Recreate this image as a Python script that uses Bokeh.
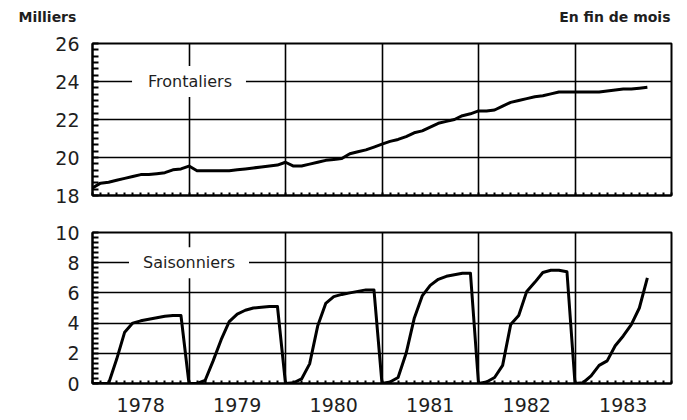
import numpy as np
import pandas as pd
from bokeh.plotting import figure
from bokeh.layouts import column
from bokeh.models import FixedTicker, Label, Range1d
from bokeh.core.properties import value
from bokeh.embed import file_html
from bokeh.resources import INLINE

# ---------------- data (end-of-month values, thousands) ----------------
months = pd.date_range("1977-12-31", periods=70, freq="ME")
years = ["1978", "1979", "1980", "1981", "1982", "1983"]

frontaliers = [
    18.4,
    18.65, 18.7, 18.8, 18.9, 19.0, 19.1, 19.1, 19.15, 19.2, 19.35, 19.4, 19.55,
    19.3, 19.3, 19.3, 19.3, 19.3, 19.35, 19.4, 19.45, 19.5, 19.55, 19.6, 19.75,
    19.55, 19.55, 19.65, 19.75, 19.85, 19.9, 19.95, 20.2, 20.3, 20.4, 20.55, 20.7,
    20.85, 20.95, 21.1, 21.3, 21.4, 21.6, 21.8, 21.9, 22.0, 22.2, 22.3, 22.45,
    22.45, 22.5, 22.7, 22.9, 23.0, 23.1, 23.2, 23.25, 23.35, 23.45, 23.45, 23.45,
    23.45, 23.45, 23.45, 23.5, 23.55, 23.6, 23.6, 23.65, 23.7,
]
saisonniers = [
    0.0,
    0.0, 0.0, 1.6, 3.4, 4.0, 4.15, 4.25, 4.35, 4.45, 4.5, 4.5, 0.0,
    0.0, 0.2, 1.5, 2.9, 4.1, 4.6, 4.85, 5.0, 5.05, 5.1, 5.1, 0.0,
    0.05, 0.3, 1.3, 3.8, 5.3, 5.75, 5.9, 6.0, 6.1, 6.2, 6.2, 0.0,
    0.1, 0.4, 2.0, 4.3, 5.8, 6.5, 6.9, 7.1, 7.2, 7.3, 7.3, 0.0,
    0.1, 0.4, 1.2, 3.9, 4.5, 6.1, 6.7, 7.35, 7.5, 7.5, 7.4, 0.0,
    0.05, 0.5, 1.2, 1.5, 2.5, 3.15, 3.9, 5.0, 7.0,
]

x = list(months.year + months.month / 12.0)
first_year = int(years[0])
last_year = int(years[-1]) + 1
year_centers = [int(y) + 0.5 for y in years]
year_bounds = [float(y) for y in range(first_year + 1, last_year)]
month_ticks = list(np.arange(first_year, last_year + 1e-9, 1 / 12.0))

FONT = "DejaVu Sans"
TXT = "#1e1e1e"
W = 687


def base_fig(height, ymin, ymax, border_top, border_bottom, ymajor, ygrid, xlabels):
    p = figure(width=W, height=height, output_backend="svg", toolbar_location=None,
               x_range=Range1d(first_year, last_year), y_range=Range1d(ymin, ymax),
               min_border_left=92, min_border_right=16,
               min_border_top=border_top, min_border_bottom=border_bottom)
    p.background_fill_color = "white"
    p.border_fill_color = "white"
    p.outline_line_color = "black"
    p.outline_line_width = 2
    # vertical grid at year boundaries
    p.xgrid.ticker = FixedTicker(ticks=year_bounds)
    p.xgrid.grid_line_color = "black"
    p.xgrid.grid_line_width = 1.6
    p.ygrid.ticker = FixedTicker(ticks=ygrid)
    p.ygrid.grid_line_color = "black"
    p.ygrid.grid_line_width = 1.6
    # y axis
    yminor = list(np.arange(ymin, ymax + 1e-9, 1 / 3.0))
    p.yaxis.ticker = FixedTicker(ticks=ymajor, minor_ticks=yminor)
    p.yaxis.axis_line_width = 2
    p.yaxis.major_tick_in = 0
    p.yaxis.major_tick_out = 0
    p.yaxis.minor_tick_in = 6
    p.yaxis.minor_tick_out = 0
    p.yaxis.minor_tick_line_width = 2
    p.yaxis.major_label_standoff = 13
    p.yaxis.major_label_text_font = FONT
    p.yaxis.major_label_text_font_size = "19px"
    p.yaxis.major_label_text_color = TXT
    # x axis (monthly minor ticks, year labels only where wanted)
    if xlabels:
        p.xaxis.ticker = FixedTicker(ticks=year_centers, minor_ticks=month_ticks)
        p.xaxis.major_label_overrides = {c: y for c, y in zip(year_centers, years)}
    else:
        p.xaxis.ticker = FixedTicker(ticks=[], minor_ticks=month_ticks)
    p.xaxis.axis_line_width = 2
    p.xaxis.major_tick_in = 0
    p.xaxis.major_tick_out = 0
    p.xaxis.minor_tick_in = 3
    p.xaxis.minor_tick_out = 0
    p.xaxis.minor_tick_line_width = 2
    p.xaxis.major_label_text_font = FONT
    p.xaxis.major_label_text_font_size = "19px"
    p.xaxis.major_label_text_color = TXT
    return p


# ---------------- header strip : unit and note ----------------
p0 = figure(width=W, height=28, output_backend="svg", toolbar_location=None,
            x_range=Range1d(0, W), y_range=Range1d(0, 28),
            x_axis_location=None, y_axis_location=None, min_border=0)
p0.frame_align = False
p0.grid.visible = False
p0.outline_line_color = None
p0.background_fill_color = "white"
p0.border_fill_color = "white"
p0.text(x=[18], y=[12], text=["Milliers"], text_font=value(FONT),
        text_font_size="14px", text_font_style="bold", text_color=TXT,
        text_align="left", text_baseline="middle")
p0.text(x=[670], y=[12], text=["En fin de mois"], text_font=value(FONT),
        text_font_size="14px", text_font_style="bold", text_color=TXT,
        text_align="right", text_baseline="middle")

# ---------------- top panel : frontaliers ----------------
p1 = base_fig(185, 18, 26, 15, 18, [18, 20, 22, 24, 26], [20, 22, 24], False)
p1.line(x, frontaliers, line_width=3, line_color="black", line_join="round")
p1.add_layout(Label(x=1979.0, y=24, text="Frontaliers", text_font=FONT,
                    text_font_size="16px", text_color=TXT, text_align="center",
                    text_baseline="middle", background_fill_color="white",
                    padding=dict(left=16, right=14, top=6, bottom=6)))

# ---------------- bottom panel : saisonniers ----------------
p2 = base_fig(207, 0, 10, 19, 37, [0, 2, 4, 6, 8, 10], [2, 4, 6, 8], True)
p2.xaxis.major_label_standoff = 14
p2.line(x, saisonniers, line_width=3, line_color="black", line_join="round")
p2.add_layout(Label(x=1979.0, y=8, text="Saisonniers", text_font=FONT,
                    text_font_size="16px", text_color=TXT, text_align="center",
                    text_baseline="middle", background_fill_color="white",
                    padding=dict(left=14, right=14, top=6, bottom=6)))

layout = column(p0, p1, p2, spacing=0)
open("out.html", "w").write(file_html(layout, INLINE))
